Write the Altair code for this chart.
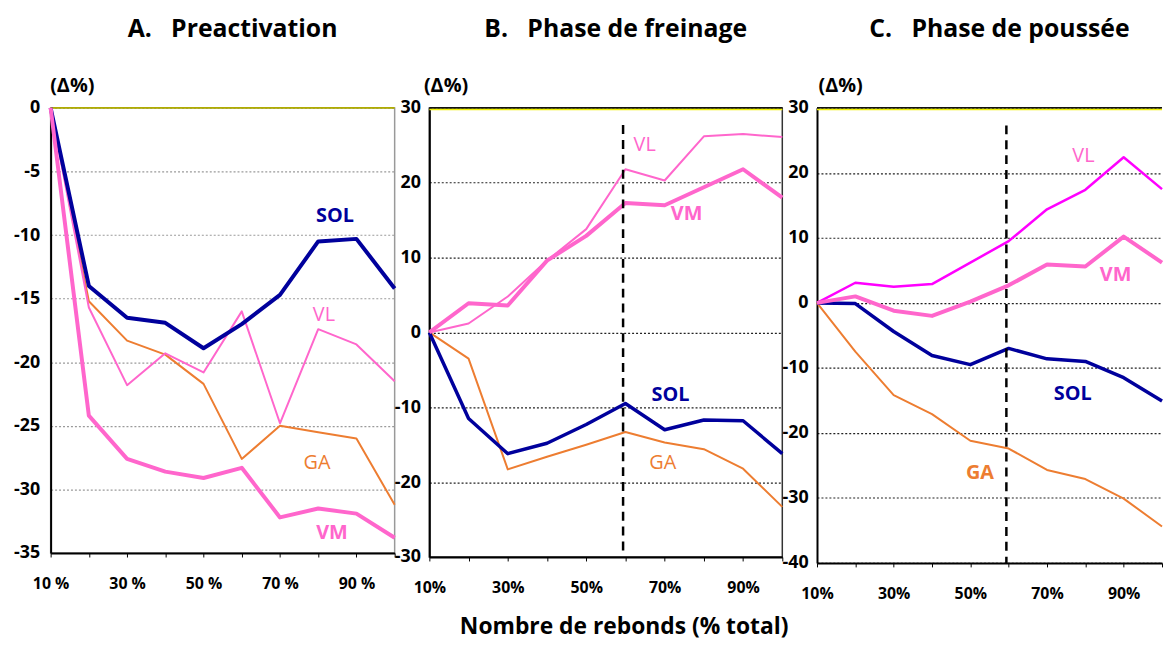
import altair as alt
import pandas as pd

# ---------------- data ----------------
x_pct = [10, 20, 30, 40, 50, 60, 70, 80, 90, 100]
x_label_vals = [10, 30, 50, 70, 90]

a_sol = [0, -14.0, -16.5, -16.9, -18.9, -17.0, -14.7, -10.5, -10.3, -14.2]
a_vl = [0, -15.7, -21.8, -19.3, -20.8, -16.0, -24.8, -17.4, -18.6, -21.5]
a_ga = [0, -15.2, -18.3, -19.4, -21.7, -27.6, -25.0, -25.5, -26.0, -31.2]
a_vm = [0, -24.2, -27.6, -28.6, -29.1, -28.3, -32.2, -31.5, -31.9, -33.8]

b_vl = [0, 1.2, 4.8, 9.6, 13.8, 21.8, 20.3, 26.2, 26.5, 26.1]
b_vm = [0, 3.9, 3.6, 9.6, 12.9, 17.3, 17.0, 19.4, 21.8, 18.0]
b_sol = [0, -11.5, -16.2, -14.8, -12.3, -9.5, -13.0, -11.7, -11.8, -16.2]
b_ga = [0, -3.5, -18.3, -16.6, -15.0, -13.3, -14.7, -15.6, -18.2, -23.3]

c_vl = [0, 3.1, 2.5, 2.9, 6.2, 9.5, 14.4, 17.4, 22.4, 17.5]
c_vm = [0, 1.0, -1.2, -2.0, 0.2, 2.7, 5.9, 5.6, 10.2, 6.2]
c_sol = [0, -0.1, -4.4, -8.1, -9.5, -7.0, -8.6, -9.0, -11.5, -15.1]
c_ga = [0, -7.5, -14.2, -17.1, -21.2, -22.4, -25.7, -27.1, -30.1, -34.4]

label_names = ["SOL", "VL", "GA", "VM"]
a_label_x = [84.4, 81.5, 79.7, 83.6]
a_label_y = [-8.5, -16.3, -27.9, -33.4]
b_label_x = [71.5, 64.9, 69.5, 75.6]
b_label_y = [-8.3, 25.0, -17.4, 15.8]
c_label_x = [76.7, 79.5, 52.5, 87.9]
c_label_y = [-14.0, 22.6, -26.2, 4.3]

phase_x = 59.4
b_phase_y = [27.7, -29.3]
c_phase_y = [27.3, -40.0]

a_domain = [-35, 0]
b_domain = [-30, 30]
c_domain = [-40, 30]
a_yticks = [-35, -30, -25, -20, -15, -10, -5, 0]
b_yticks = [-30, -20, -10, 0, 10, 20, 30]
c_yticks = [-40, -30, -20, -10, 0, 10, 20, 30]

titles = ["A.\u00a0\u00a0\u00a0Preactivation",
          "B.\u00a0\u00a0\u00a0Phase de freinage",
          "C.\u00a0\u00a0\u00a0Phase de pouss\u00e9e"]
x_title = "Nombre de rebonds (% total)"
y_title = "(\u0394%)"

# ---------------- styling ----------------
NAVY = "#00009C"
ORANGE = "#ED7D31"
PINK = "#FF66CC"
MAGENTA = "#FF00FF"
FONT = "Open Sans"


def panel(title, series, labels, ydom, yticks, width, height, pct_fmt,
          grid_color, top_color, top_black, view_stroke, ylabpad, ytitle_x,
          phase=None, xtitle=None):
    lab_list = ",".join(str(v) for v in x_label_vals)
    xaxis_kw = dict(
        values=x_pct,
        labelExpr=f"indexof([{lab_list}], datum.value) >= 0 ? datum.value + '{pct_fmt}' : ''",
        grid=False, tickSize=4, tickColor="black", tickWidth=1,
        labelPadding=19, labelFont=FONT, labelFontSize=16, labelFontWeight="bold",
        labelColor="black", domainColor="black", domainWidth=2,
        labelOverlap=False, labelFlush=False,
    )
    if xtitle:
        xaxis_kw.update(title=xtitle[0], titleFont=FONT, titleFontSize=23,
                        titleFontWeight="bold", titleColor="black",
                        titleX=xtitle[1], titleY=70, titleBaseline="middle",
                        titleAlign="center")
    else:
        xaxis_kw["title"] = None
    X = alt.X("x:Q", scale=alt.Scale(domain=[10, 100], nice=False, zero=False),
              axis=alt.Axis(**xaxis_kw))
    Y = alt.Y("y:Q", scale=alt.Scale(domain=ydom, nice=False, zero=False),
              axis=alt.Axis(values=yticks, labelExpr="'' + datum.value",
                            title=y_title, titleAngle=0,
                            titleAlign="left", titleBaseline="middle",
                            titleX=ytitle_x, titleY=-23, titleFont=FONT,
                            titleFontSize=20, titleFontWeight="bold",
                            titleColor="black",
                            grid=True, gridColor=grid_color, gridDash=[2, 2],
                            gridWidth=1.2, tickSize=0, labelPadding=ylabpad,
                            labelFont=FONT, labelFontSize=18,
                            labelFontWeight="bold", labelColor="black",
                            domainColor="black", domainWidth=2))
    layers = []
    top = pd.DataFrame({"y": [ydom[1]]})
    if top_black:
        layers.append(alt.Chart(top).mark_rule(color="#111111", strokeWidth=1.6)
                      .encode(y=Y))
        layers.append(alt.Chart(top).mark_rule(color=top_color, strokeWidth=1.6,
                                               yOffset=1.6).encode(y=Y))
    else:
        layers.append(alt.Chart(top).mark_rule(color=top_color, strokeWidth=1.6)
                      .encode(y=Y))
    for vals, color, sw in series:
        df = pd.DataFrame({"x": x_pct, "y": vals})
        layers.append(alt.Chart(df).mark_line(color=color, strokeWidth=sw,
                                              strokeJoin="round")
                      .encode(x=X, y=Y))
    if phase is not None:
        dfp = pd.DataFrame({"x": [phase_x], "y": [phase[0]], "y2": [phase[1]]})
        layers.append(alt.Chart(dfp).mark_rule(color="black", strokeWidth=2.5,
                                               strokeDash=[9, 6])
                      .encode(x=X, y=Y, y2="y2:Q"))
    for name, lx, ly, color, weight in labels:
        dfl = pd.DataFrame({"x": [lx], "y": [ly], "t": [name]})
        layers.append(alt.Chart(dfl).mark_text(font=FONT, fontSize=20,
                                               fontWeight=weight, color=color,
                                               align="center", baseline="middle")
                      .encode(x=X, y=Y, text="t:N"))
    return alt.layer(*layers).properties(
        width=width, height=height,
        title=alt.TitleParams(title, font=FONT, fontSize=25, fontWeight="bold",
                              color="black", anchor="middle", dx=10, offset=33),
        view=alt.ViewBackground(stroke=view_stroke, strokeWidth=1.5 if view_stroke else 0),
    )


A = panel(
    titles[0],
    [(a_ga, ORANGE, 2), (a_vl, PINK, 2), (a_sol, NAVY, 4), (a_vm, PINK, 4)],
    [(label_names[0], a_label_x[0], a_label_y[0], NAVY, "bold"),
     (label_names[1], a_label_x[1], a_label_y[1], PINK, "normal"),
     (label_names[2], a_label_x[2], a_label_y[2], ORANGE, "normal"),
     (label_names[3], a_label_x[3], a_label_y[3], PINK, "bold")],
    a_domain, a_yticks, 347, 449, " %", "#9a9a9a", "#B0AC00", False, "#999999", 11, -1,
)
B = panel(
    titles[1],
    [(b_ga, ORANGE, 2), (b_vl, PINK, 2), (b_sol, NAVY, 3.5), (b_vm, PINK, 4)],
    [(label_names[0], b_label_x[0], b_label_y[0], NAVY, "bold"),
     (label_names[1], b_label_x[1], b_label_y[1], PINK, "normal"),
     (label_names[2], b_label_x[2], b_label_y[2], ORANGE, "normal"),
     (label_names[3], b_label_x[3], b_label_y[3], PINK, "bold")],
    b_domain, b_yticks, 356, 453, "%", "#222222", "#F0F000", True, "#333333", 9, -6,
    phase=b_phase_y, xtitle=(x_title, 196),
)
C = panel(
    titles[2],
    [(c_ga, ORANGE, 2), (c_sol, NAVY, 3.5), (c_vl, MAGENTA, 2.5), (c_vm, PINK, 4)],
    [(label_names[0], c_label_x[0], c_label_y[0], NAVY, "bold"),
     (label_names[1], c_label_x[1], c_label_y[1], PINK, "normal"),
     (label_names[2], c_label_x[2], c_label_y[2], ORANGE, "bold"),
     (label_names[3], c_label_x[3], c_label_y[3], PINK, "bold")],
    c_domain, c_yticks, 348, 459, "%", "#222222", "#F0F000", True, None, 9, 1,
    phase=c_phase_y,
)

chart = alt.hconcat(A, B, C, spacing=35, bounds="flush").properties(
    padding={"left": 4, "top": 6, "right": 0, "bottom": 0},
    background="white",
).configure_view(strokeWidth=0)

chart.save("out.html", embed_options={"renderer": "svg", "actions": False})
